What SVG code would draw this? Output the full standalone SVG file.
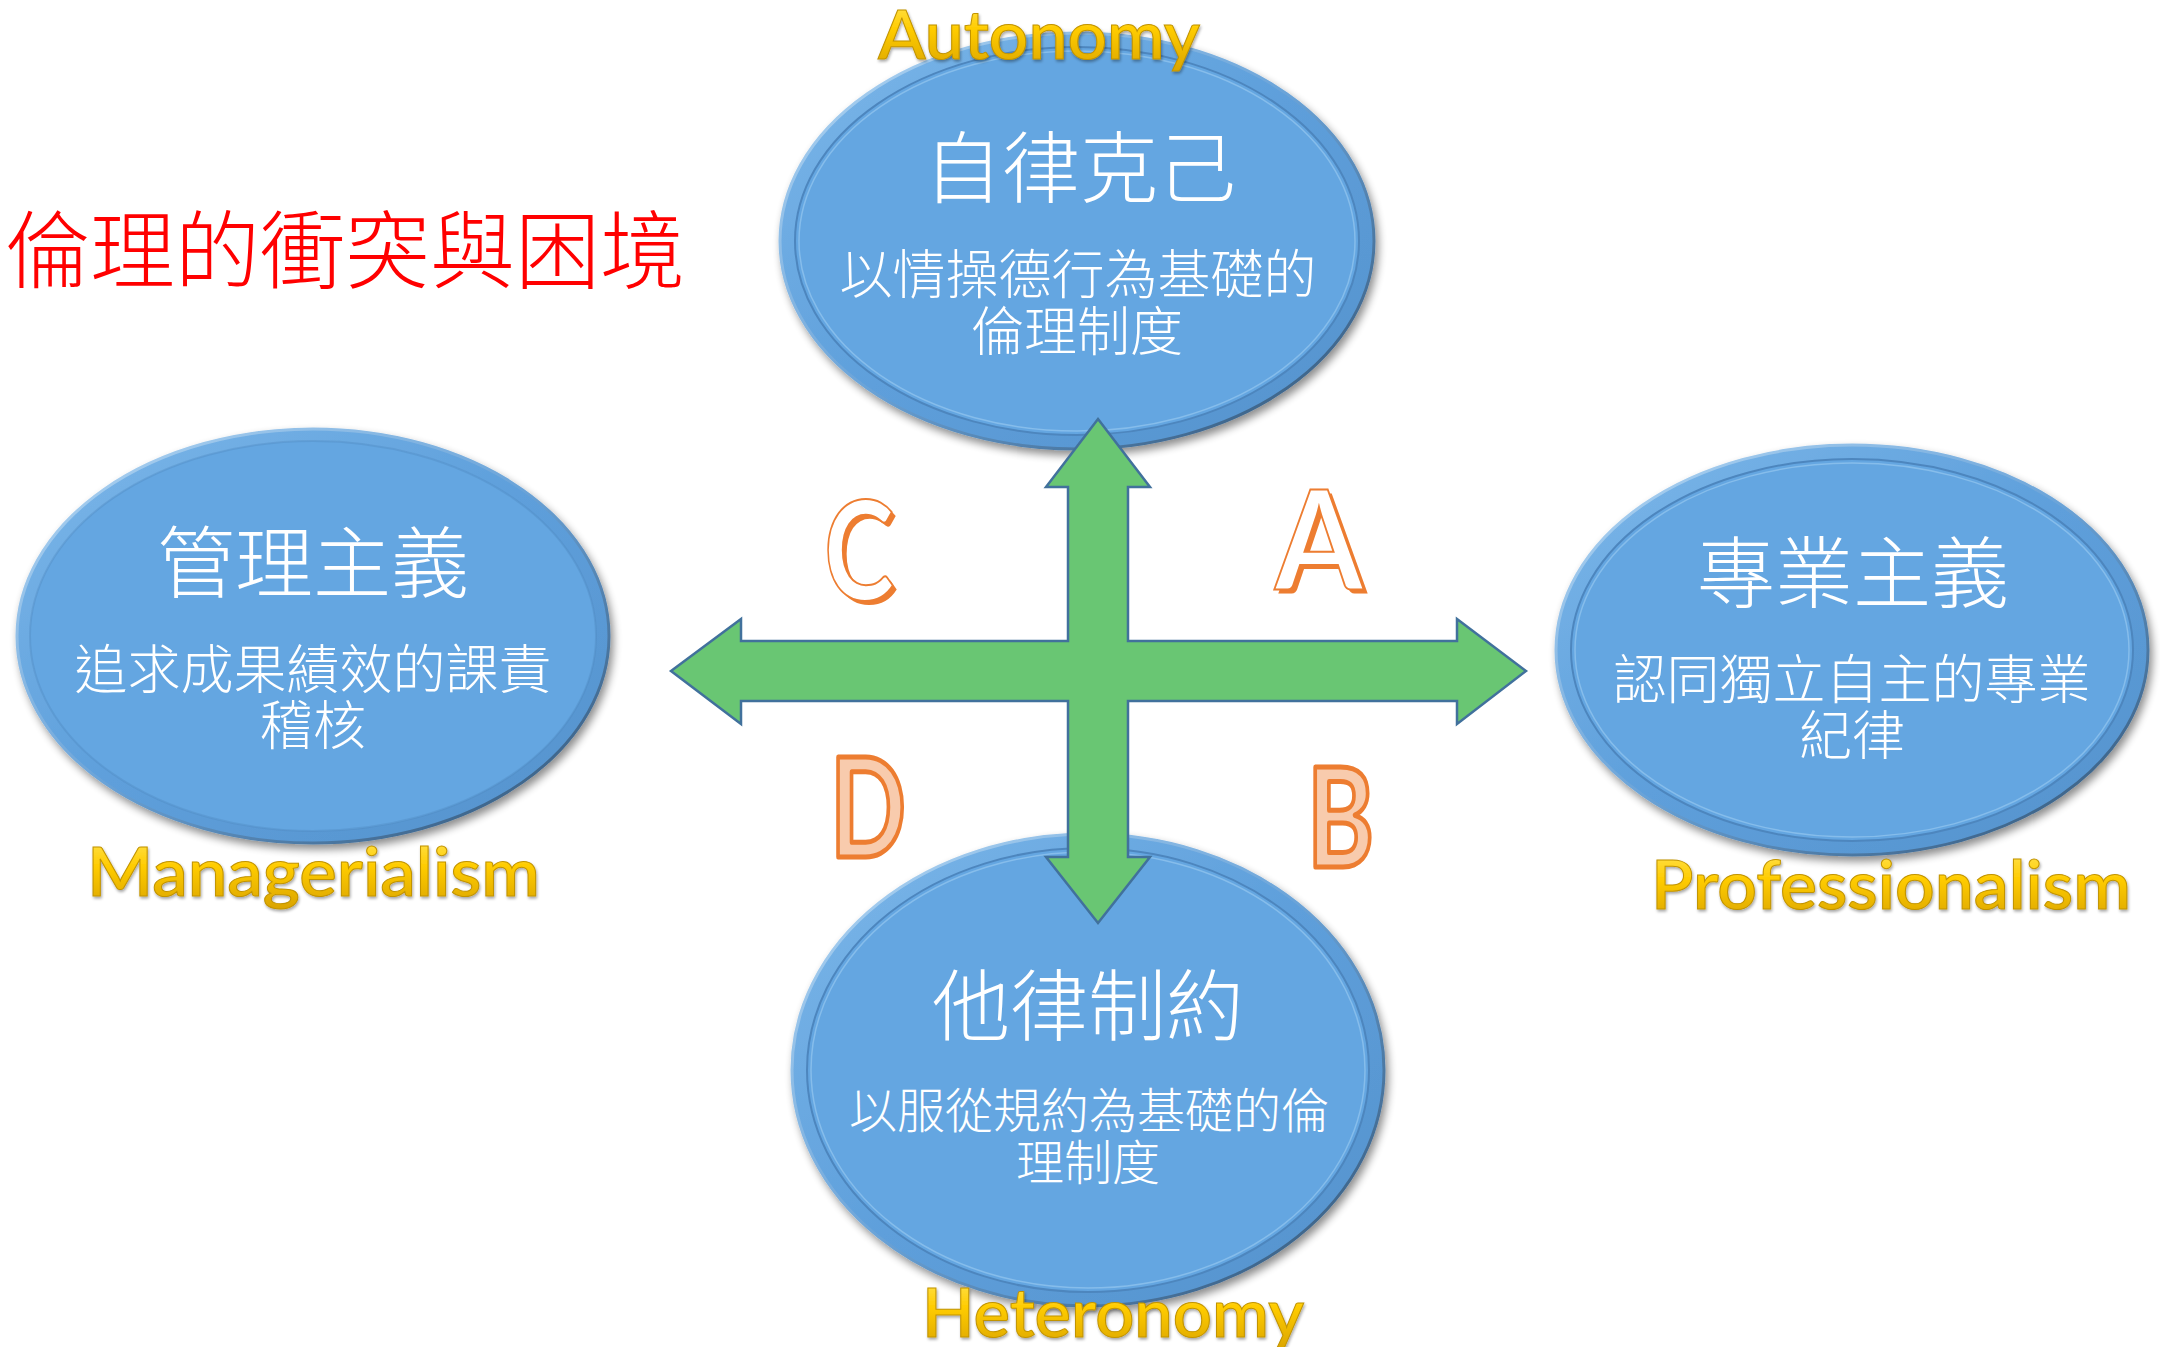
<svg xmlns="http://www.w3.org/2000/svg" width="2160" height="1347" viewBox="0 0 2160 1347">
<defs>
<style>
.cjk{font-family:"Noto Sans CJK TC","Noto Sans CJK SC",sans-serif;font-weight:300;fill:#FFFFFF;text-anchor:middle}
.big{font-size:78px}
.small{font-size:53px}
.smaller{font-size:48px}
.gold{font-family:Lato,"Open Sans",sans-serif;font-weight:600;font-size:67px;fill:url(#goldG);stroke:#C29400;stroke-width:1;filter:url(#tsh)}
.ltr{font-family:Lato,"Open Sans",sans-serif;font-weight:700;font-size:138px}
.rimO{fill:url(#rimG);stroke:url(#edgeG);stroke-width:3}
.rimI{fill:#64A6E1;stroke:#4D86BE;stroke-width:2}
.rimL{fill:none;stroke:#86BDEB;stroke-width:1.5}
</style>
<linearGradient id="goldG" x1="0" y1="0" x2="0" y2="1">
<stop offset="0" stop-color="#FFE866"/>
<stop offset="0.45" stop-color="#FFCC00"/>
<stop offset="1" stop-color="#D9A300"/>
</linearGradient>
<linearGradient id="rimG" x1="0" y1="0" x2="1" y2="1">
<stop offset="0" stop-color="#7DB8EA"/>
<stop offset="0.5" stop-color="#5E9FDB"/>
<stop offset="1" stop-color="#5592CC"/>
</linearGradient>
<linearGradient id="edgeG" x1="0" y1="0" x2="1" y2="1">
<stop offset="0" stop-color="#B7DAF6"/>
<stop offset="0.5" stop-color="#6AA3D8"/>
<stop offset="1" stop-color="#2E4E6E"/>
</linearGradient>
<filter id="sh" x="-10%" y="-10%" width="120%" height="125%">
<feGaussianBlur in="SourceAlpha" stdDeviation="4"/>
<feOffset dx="3" dy="5" result="b"/>
<feComponentTransfer><feFuncA type="linear" slope="0.45"/></feComponentTransfer>
<feMerge><feMergeNode/><feMergeNode in="SourceGraphic"/></feMerge>
</filter>
<filter id="tsh" x="-5%" y="-10%" width="110%" height="130%">
<feGaussianBlur in="SourceAlpha" stdDeviation="1.5"/>
<feOffset dx="1" dy="2"/>
<feComponentTransfer><feFuncA type="linear" slope="0.35"/></feComponentTransfer>
<feMerge><feMergeNode/><feMergeNode in="SourceGraphic"/></feMerge>
</filter>
</defs>
<rect x="0" y="0" width="2160" height="1347" fill="#FFFFFF"/>

<g id="title">
<text x="5" y="282" font-family="Noto Sans CJK TC, Noto Sans CJK SC, sans-serif" font-weight="300" font-size="85" fill="#FF0000" textLength="680" lengthAdjust="spacingAndGlyphs">倫理的衝突與困境</text>
</g>

<g id="node-autonomy">
<ellipse class="rimO" cx="1077" cy="241" rx="297" ry="208" filter="url(#sh)"/>
<ellipse class="rimI" cx="1077" cy="241" rx="282" ry="194"/>
<ellipse class="rimL" cx="1077" cy="241" rx="278" ry="190"/>
<text class="cjk big" x="1080" y="197">自律克己</text>
<text class="cjk small" x="1078" y="294">以情操德行為基礎的</text>
<text class="cjk small" x="1077" y="351">倫理制度</text>
</g>

<g id="node-managerialism">
<ellipse class="rimO" cx="313" cy="636" rx="296" ry="207" filter="url(#sh)"/>
<ellipse class="rimI" cx="313" cy="636" rx="283" ry="195" stroke-opacity="0.35"/>
<text class="cjk big" x="313" y="592">管理主義</text>
<text class="cjk small" x="313" y="689">追求成果績效的課責</text>
<text class="cjk small" x="313" y="745">稽核</text>
</g>

<g id="node-professionalism">
<ellipse class="rimO" cx="1852" cy="650" rx="296" ry="205" filter="url(#sh)"/>
<ellipse class="rimI" cx="1852" cy="650" rx="281" ry="191"/>
<ellipse class="rimL" cx="1852" cy="650" rx="277" ry="187"/>
<text class="cjk big" x="1853" y="602">專業主義</text>
<text class="cjk small" x="1852" y="699">認同獨立自主的專業</text>
<text class="cjk small" x="1852" y="755">紀律</text>
</g>

<g id="node-heteronomy">
<ellipse class="rimO" cx="1088" cy="1070" rx="296" ry="236" filter="url(#sh)"/>
<ellipse class="rimI" cx="1088" cy="1070" rx="281" ry="222"/>
<ellipse class="rimL" cx="1088" cy="1070" rx="277" ry="218"/>
<text class="cjk big" x="1088" y="1035">他律制約</text>
<text class="cjk smaller" x="1089" y="1128">以服從規約為基礎的倫</text>
<text class="cjk smaller" x="1088" y="1180">理制度</text>
</g>

<g id="connectors">
<path d="M1098,419 L1150,487 L1128,487 L1128,641 L1457,641 L1457,619 L1526,671 L1457,724 L1457,701 L1128,701 L1128,857 L1150,857 L1098,923 L1046,857 L1068,857 L1068,701 L741,701 L741,724 L671,671 L741,619 L741,641 L1068,641 L1068,487 L1046,487 Z" fill="#69C673" stroke="#41719C" stroke-width="2.5" stroke-linejoin="miter"/>
</g>

<g id="label-autonomy"><text class="gold" x="878" y="59" textLength="322" lengthAdjust="spacingAndGlyphs">Autonomy</text></g>
<g id="label-managerialism"><text class="gold" x="87" y="896" textLength="453" lengthAdjust="spacingAndGlyphs">Managerialism</text></g>
<g id="label-professionalism"><text class="gold" x="1651" y="909" textLength="480" lengthAdjust="spacingAndGlyphs">Professionalism</text></g>
<g id="label-heteronomy"><text class="gold" x="922" y="1337" textLength="382" lengthAdjust="spacingAndGlyphs">Heteronomy</text></g>

<g id="quadrant-A">
<text class="ltr" x="1279" y="594" textLength="88" lengthAdjust="spacingAndGlyphs" fill="#ED7D31">A</text>
<text class="ltr" x="1275" y="590" textLength="88" lengthAdjust="spacingAndGlyphs" fill="#FFFFFF" stroke="#ED7D31" stroke-width="2">A</text>
</g>
<g id="quadrant-C">
<text class="ltr" x="828" y="604" textLength="70" lengthAdjust="spacingAndGlyphs" fill="#ED7D31">C</text>
<text class="ltr" x="824" y="600" textLength="70" lengthAdjust="spacingAndGlyphs" fill="#FFFFFF" stroke="#ED7D31" stroke-width="2">C</text>
</g>
<g id="quadrant-D">
<text class="ltr" x="830" y="857" textLength="76" lengthAdjust="spacingAndGlyphs" fill="#F8CBAD" stroke="#ED7D31" stroke-width="5" stroke-linejoin="round">D</text>
</g>
<g id="quadrant-B">
<text class="ltr" x="1307" y="867" textLength="67" lengthAdjust="spacingAndGlyphs" fill="#F8CBAD" stroke="#ED7D31" stroke-width="5" stroke-linejoin="round">B</text>
</g>
</svg>
